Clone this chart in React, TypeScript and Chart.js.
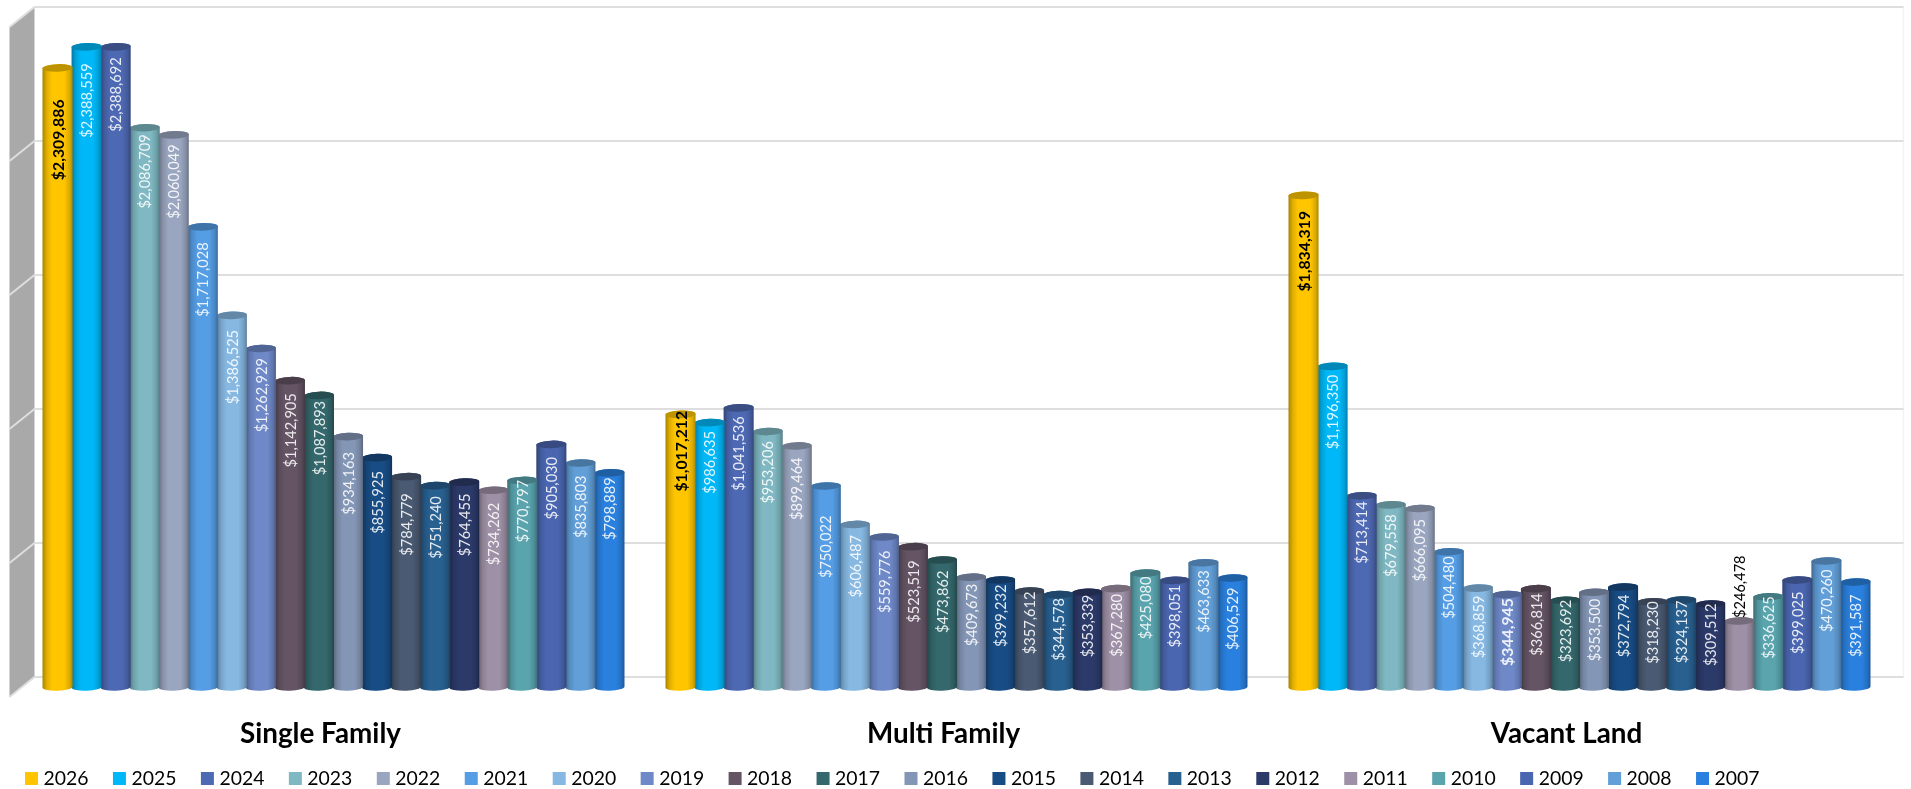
import React, { useEffect, useRef } from "react";
import { Chart, registerables } from "chart.js";

Chart.register(...registerables);

const categories = ["Single Family", "Multi Family", "Vacant Land"];
const years = ["2026","2025","2024","2023","2022","2021","2020","2019","2018","2017","2016","2015","2014","2013","2012","2011","2010","2009","2008","2007"];
const singleFamily = [2309886,2388559,2388692,2086709,2060049,1717028,1386525,1262929,1142905,1087893,934163,855925,784779,751240,764455,734262,770797,905030,835803,798889];
const multiFamily = [1017212,986635,1041536,953206,899464,750022,606487,559776,523519,473862,409673,399232,357612,344578,353339,367280,425080,398051,463633,406529];
const vacantLand = [1834319,1196350,713414,679558,666095,504480,368859,344945,366814,323692,353500,372794,318230,324137,309512,246478,336625,399025,470260,391587];
const yearColors = ["#FFC600","#00B8F8","#4E69B3","#7FB8C2","#9AA6C0","#559DE4","#86B8E2","#6E88C8","#645464","#34686C","#8496B6","#184C84","#4A5A72","#286090","#2C3A6A","#9E90A6","#5AA4AE","#4A66B0","#629FD8","#2A80DE"];

// Distance in pixels from a cylinder's rim down to the start of its rotated value label.
const singleFamilyLabelDrop = [35,20,14,10,13,19,18,13,16,9,19,17,20,14,15,16,3,16,16,8];
const multiFamilyLabelDrop = [0,12,12,13,15,33,14,17,17,14,10,8,4,7,6,9,7,8,11,13];
const vacantLandLabelDrop = [19,12,9,13,14,8,11,7,8,3,10,11,3,4,3,-62,3,15,12,16];
const labelDrops = [singleFamilyLabelDrop, multiFamilyLabelDrop, vacantLandLabelDrop];

const FONT = "Lato";
const DEPTH_X = 12.5;
const DEPTH_Y = 10;

function shade(hex: string, f: number) {
  const n = parseInt(hex.slice(1), 16);
  const c = [(n >> 16) & 255, (n >> 8) & 255, n & 255].map((v) => Math.round(v * f));
  return `rgb(${c[0]},${c[1]},${c[2]})`;
}

// Side wall and gridlines of the 3-D box behind the cylinders.
const wallPlugin = {
  id: "wall",
  beforeDraw(chart: any) {
    const { ctx, width, height } = chart;
    ctx.save();
    ctx.fillStyle = "#fff";
    ctx.fillRect(0, 0, width, height);
    ctx.restore();
  },
  beforeDatasetsDraw(chart: any) {
    const { ctx, chartArea: a, scales } = chart;
    const y = scales.y;
    const bx = a.left + DEPTH_X;
    const fx = a.left - DEPTH_X;
    const topV = y.getPixelForValue(y.max);
    const botV = y.getPixelForValue(0);
    ctx.save();
    ctx.fillStyle = "#A9A9A9";
    ctx.beginPath();
    ctx.moveTo(bx, topV - DEPTH_Y);
    ctx.lineTo(bx, botV - DEPTH_Y);
    ctx.lineTo(fx, botV + DEPTH_Y);
    ctx.lineTo(fx, topV + DEPTH_Y);
    ctx.closePath();
    ctx.fill();
    ctx.strokeStyle = "#F2F2F2";
    ctx.lineWidth = 1.5;
    ctx.beginPath();
    ctx.moveTo(a.right + DEPTH_X, topV - DEPTH_Y);
    ctx.lineTo(a.right + DEPTH_X, botV - DEPTH_Y);
    ctx.stroke();
    ctx.strokeStyle = "#DEDEDE";
    ctx.lineWidth = 2;
    for (const t of y.ticks) {
      const py = y.getPixelForValue(t.value);
      ctx.beginPath();
      ctx.moveTo(fx, py + DEPTH_Y);
      ctx.lineTo(bx, py - DEPTH_Y);
      ctx.lineTo(a.right + DEPTH_X, py - DEPTH_Y);
      ctx.stroke();
    }
    ctx.restore();
  },
};

// Turns each bar element into a shaded cylinder with an elliptical cap.
const cylinderPlugin = {
  id: "cylinder",
  afterDatasetDraw(chart: any, args: any) {
    const { ctx } = chart;
    const color = chart.data.datasets[args.index].backgroundColor;
    const RY = 3.8;
    const TILT = -0.035;
    ctx.save();
    for (const el of args.meta.data) {
      const hw = el.width / 2 + 0.5;
      const { x, y, base } = el;
      const g = ctx.createLinearGradient(x - hw, 0, x + hw, 0);
      g.addColorStop(0, shade(color, 0.66));
      g.addColorStop(0.14, shade(color, 0.88));
      g.addColorStop(0.32, shade(color, 1));
      g.addColorStop(0.72, shade(color, 1));
      g.addColorStop(0.9, shade(color, 0.86));
      g.addColorStop(1, shade(color, 0.68));
      ctx.fillStyle = g;
      ctx.beginPath();
      ctx.ellipse(x, base, hw, RY, TILT, 0, Math.PI);
      ctx.ellipse(x, y, hw, RY, TILT, Math.PI, 2 * Math.PI);
      ctx.closePath();
      ctx.fill();
      ctx.fillStyle = shade(color, 0.74);
      ctx.beginPath();
      ctx.ellipse(x, y, hw, RY, TILT, 0, 2 * Math.PI);
      ctx.fill();
    }
    ctx.restore();
  },
};

// Rotated value labels along the cylinders.
const valueLabelPlugin = {
  id: "valueLabels",
  afterDatasetsDraw(chart: any) {
    const { ctx } = chart;
    ctx.save();
    chart.data.datasets.forEach((ds: any, i: number) => {
      const meta = chart.getDatasetMeta(i);
      meta.data.forEach((el: any, c: number) => {
        const v = ds.data[c];
        const outside = c === 2 && i === 15;
        const bold = i === 0 || (c === 2 && i === 7);
        const ink = i === 0 || outside ? "#000" : "rgba(255,255,255,0.88)";
        ctx.save();
        ctx.translate(el.x + 1, el.y - 3.5 + labelDrops[c][i]);
        ctx.rotate(-Math.PI / 2);
        ctx.font = `${bold ? "bold 15.8px" : "14.6px"} ${FONT}`;
        ctx.fillStyle = ink;
        ctx.textAlign = "right";
        ctx.textBaseline = "middle";
        ctx.fillText("$" + v.toLocaleString("en-US"), 0, 0);
        ctx.restore();
      });
    });
    ctx.restore();
  },
};

// One row of square swatches and year names under the category names.
const legendRowPlugin = {
  id: "legendRow",
  afterDraw(chart: any) {
    const { ctx } = chart;
    ctx.save();
    ctx.font = `19.4px ${FONT}`;
    ctx.textBaseline = "middle";
    ctx.textAlign = "left";
    chart.data.datasets.forEach((ds: any, i: number) => {
      const x = 25 + i * 87.95;
      ctx.fillStyle = ds.backgroundColor;
      ctx.fillRect(x, 772, 13, 13);
      ctx.fillStyle = "#000";
      ctx.fillText(ds.label, x + 18.5, 779);
    });
    ctx.restore();
  },
};

export default function App() {
  const ref = useRef<HTMLCanvasElement>(null);
  useEffect(() => {
    const chart = new Chart(ref.current as HTMLCanvasElement, {
      type: "bar",
      data: {
        labels: categories,
        datasets: years.map((label, i) => ({
          label,
          data: [singleFamily[i], multiFamily[i], vacantLand[i]],
          backgroundColor: yearColors[i],
        })),
      },
      options: {
        responsive: false,
        animation: false,
        layout: { padding: { left: 22, right: 20, top: 17, bottom: 0 } },
        datasets: { bar: { barPercentage: 1, categoryPercentage: 0.9326 } },
        plugins: { legend: { display: false }, tooltip: { enabled: false } },
        scales: {
          x: {
            grid: { display: false, drawTicks: false },
            border: { display: false },
            afterFit: (s: any) => { s.height = 102; },
            ticks: {
              color: "#000",
              padding: 30,
              labelOffset: -13,
              maxRotation: 0,
              font: { family: FONT, weight: "bold", size: 27.8 },
            },
          },
          y: {
            display: false,
            min: 0,
            max: 2500000,
            ticks: { stepSize: 500000 },
          },
        },
      },
      plugins: [wallPlugin, cylinderPlugin, valueLabelPlugin, legendRowPlugin],
    } as any);
    return () => chart.destroy();
  }, []);
  return (
    <div style={{ position: "absolute", left: 0, top: 0, width: 1911, height: 789 }}>
      <canvas ref={ref} width={1911} height={789} style={{ display: "block" }} />
    </div>
  );
}
